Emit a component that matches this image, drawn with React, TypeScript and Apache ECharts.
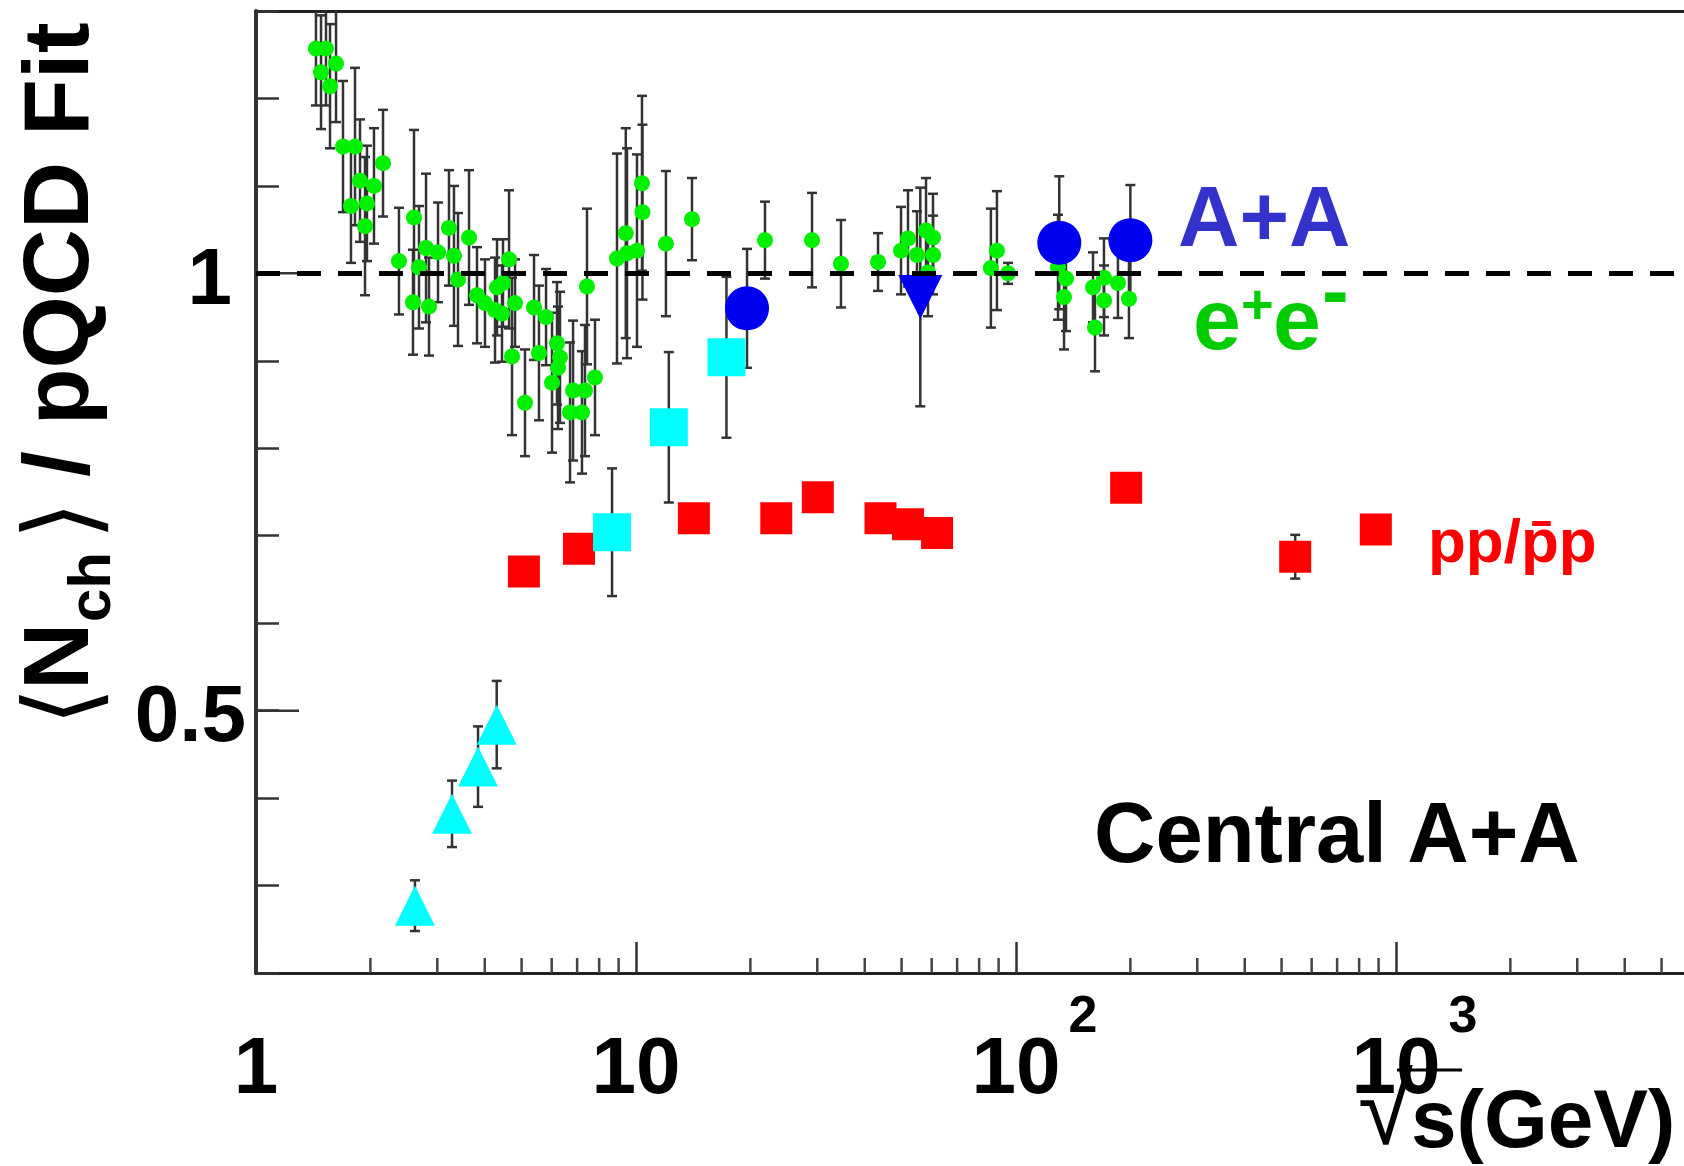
import React, { useEffect, useRef } from 'react';
import * as echarts from 'echarts';

// ---------- data ----------
// e+e- : sqrt(s) [GeV], <Nch>/pQCD fit, error
const eeSqrtS = [1.438, 1.528, 1.624, 1.483, 1.566, 1.694, 1.822, 2.159, 1.878, 2.044,
  1.778, 1.959, 1.936, 2.378, 2.605, 2.802, 3.013, 2.685, 3.22, 3.636,
  3.319, 3.401, 2.589, 2.853, 4.634, 3.816, 4.005, 4.308, 4.467, 4.256,
  4.44, 4.805, 5.391, 5.798, 7.431, 4.718, 5.555, 5.104, 6.196, 6.31,
  6.234, 6.012, 6.829, 7.341, 6.706, 7.209, 7.8, 8.913, 9.47, 10.06,
  9.4, 10.37, 10.4, 11.99, 14.04, 21.85, 29.06, 34.63, 43.35, 49.83,
  51.98, 54.89, 57.98, 60.48, 60.5, 58.68, 89.1, 85.9, 95.3, 129,
  135.4, 133.8, 159.5, 170.4, 170.5, 185.5, 198.3, 161.4];
const eeRatio = [1.257, 1.257, 1.240, 1.230, 1.214, 1.145, 1.145, 1.126, 1.106, 1.100,
  1.077, 1.080, 1.054, 1.014, 1.064, 1.029, 1.024, 1.007, 1.052, 1.041,
  1.020, 0.993, 0.967, 0.962, 1.016, 0.975, 0.966, 0.984, 0.989, 0.958,
  0.954, 0.966, 0.961, 0.950, 0.985, 0.905, 0.909, 0.852, 0.920, 0.904,
  0.892, 0.875, 0.866, 0.866, 0.841, 0.841, 0.881, 1.017, 1.023, 1.026,
  1.046, 1.103, 1.070, 1.034, 1.062, 1.038, 1.038, 1.011, 1.013, 1.026,
  1.040, 1.021, 1.049, 1.041, 1.021, 1.001, 1.026, 1.006, 1.000, 1.007,
  0.994, 0.973, 0.984, 0.995, 0.969, 0.989, 0.971, 0.938];
const eeErr = [0.065, 0.065, 0.067, 0.065, 0.071, 0.075, 0.09, 0.061, 0.07, 0.066,
  0.065, 0.066, 0.079, 0.061, 0.1, 0.085, 0.057, 0.07, 0.066, 0.077,
  0.08, 0.076, 0.06, 0.056, 0.079, 0.055, 0.05, 0.055, 0.05, 0.06,
  0.055, 0.05, 0.06, 0.055, 0.089, 0.09, 0.077, 0.061, 0.07, 0.075,
  0.07, 0.08, 0.08, 0.075, 0.08, 0.07, 0.066, 0.12, 0.12, 0.11,
  0.12, 0.1, 0.1, 0.083, 0.047, 0.044, 0.054, 0.05, 0.033, 0.05,
  0.055, 0.05, 0.06, 0.05, 0.045, 0.05, 0.068, 0.068, 0.012, 0.06,
  0.06, 0.06, 0.04, 0.045, 0.04, 0.04, 0.045, 0.05];

// pp / ppbar
const ppSqrtS = [5.07, 7.08, 14.2, 23.4, 30.1, 44, 52, 62, 195, 543, 885];
const ppRatio = [0.659, 0.685, 0.720, 0.720, 0.744, 0.720, 0.713, 0.703, 0.755, 0.676, 0.707];
const ppErr = [0, 0, 0, 0, 0, 0, 0, 0, 0, 0.025, 0];

// AGS (cyan triangles)
const agsSqrtS = [2.62, 3.28, 3.84, 4.30];
const agsRatio = [0.277, 0.382, 0.436, 0.484];
const agsErr = [0.029, 0.038, 0.046, 0.05];

// SPS (cyan squares)
const spsSqrtS = [8.65, 12.2, 17.3];
const spsRatio = [0.704, 0.824, 0.904];
const spsErr = [0.073, 0.086, 0.092];

// RHIC (blue circles)
const rhicSqrtS = [19.6, 130, 200];
const rhicRatio = [0.960, 1.035, 1.038];
const rhicErr = [0.068, 0.076, 0.063];

// RHIC 56 GeV (blue inverted triangle)
const rhic56SqrtS = [56];
const rhic56Ratio = [0.973];
const rhic56Err = [0.125];

// axis ticks
const xMinorTicks = [2, 3, 4, 5, 6, 7, 8, 9, 20, 30, 40, 50, 60, 70, 80, 90,
  200, 300, 400, 500, 600, 700, 800, 900, 2000, 3000, 4000, 5000];
const yMajorTicks = [0.5, 1];

const X_MIN = 1;
const X_MAX = 5728;
const Y_MIN = 0.2;
const Y_MAX = 1.3;

const FONT = 'Liberation Sans';

function zip3(a: number[], b: number[], c: number[]) {
  return a.map((v, i) => [v, b[i], c[i]]);
}
function zip2(a: number[], b: number[]) {
  return a.map((v, i) => [v, b[i]]);
}

const errRender = (params: any, api: any) => {
  const x = api.value(0);
  const y = api.value(1);
  const e = api.value(2);
  if (!e) return { type: 'group', children: [] };
  const top = api.coord([x, y + e]);
  const bot = api.coord([x, y - e]);
  const hw = 5;
  const style = { stroke: '#333333', lineWidth: 2.5 };
  return {
    type: 'group',
    children: [
      { type: 'line', shape: { x1: top[0], y1: top[1], x2: bot[0], y2: bot[1] }, style },
      { type: 'line', shape: { x1: top[0] - hw, y1: top[1], x2: top[0] + hw, y2: top[1] }, style },
      { type: 'line', shape: { x1: bot[0] - hw, y1: bot[1], x2: bot[0] + hw, y2: bot[1] }, style },
    ],
  };
};

function errSeries(data: number[][]) {
  return {
    type: 'custom',
    renderItem: errRender,
    data,
    encode: { x: 0, y: 1 },
    clip: true,
    silent: true,
    z: 2,
  };
}

function txt(x: number, y: number, text: string, size: number, color: string, weight = 'bold', lineHeight?: number, family = FONT) {
  const style: any = { text, fill: color, fontSize: size, fontWeight: weight, fontFamily: family, align: 'left', verticalAlign: 'middle' };
  if (lineHeight) style.lineHeight = lineHeight;
  return { type: 'text', x, y, silent: true, style };
}

export default function App() {
  const ref = useRef<HTMLDivElement>(null);
  useEffect(() => {
    const chart = echarts.init(ref.current as HTMLDivElement, null, { renderer: 'svg' });
    const option: any = {
      animation: false,
      backgroundColor: '#ffffff',
      textStyle: { fontFamily: FONT },
      grid: { left: 256, top: 11, width: 1428, height: 962, containLabel: false },
      xAxis: [
        {
          type: 'log',
          logBase: 10,
          min: X_MIN,
          max: X_MAX,
          position: 'bottom',
          splitNumber: 4,
          axisLine: { show: true, lineStyle: { color: '#222', width: 3 } },
          axisTick: { show: true, inside: true, length: 31, lineStyle: { color: '#333', width: 2.5 } },
          splitLine: { show: false },
          minorTick: { show: false },
          axisLabel: {
            show: true,
            margin: 15,
            showMaxLabel: false,
            showMinLabel: true,
            formatter: (v: number) => {
              const lg = Math.log10(v);
              const k = Math.round(lg);
              if (Math.abs(lg - k) > 1e-6) return '';
              if (k === 0) return '{b|1}';
              if (k === 1) return '{b|10}';
              return '{pad|}{b|10}{sup|' + k + '}';
            },
            rich: {
              b: { fontSize: 80, fontWeight: 'bold', fontFamily: FONT, lineHeight: 60, padding: [37, 0, 0, 0], verticalAlign: 'top', color: '#000' },
              sup: { fontSize: 52, fontWeight: 'bold', fontFamily: FONT, lineHeight: 52, padding: [0, 0, 0, 8], verticalAlign: 'top', color: '#000' },
              pad: { width: 37 },
            },
          },
        },
        {
          type: 'log',
          logBase: 10,
          min: X_MIN,
          max: X_MAX,
          position: 'top',
          axisLine: { show: true, lineStyle: { color: '#222', width: 3 } },
          axisTick: { show: false },
          axisLabel: { show: false },
          splitLine: { show: false },
        },
      ],
      yAxis: [
        {
          type: 'value',
          min: Y_MIN,
          max: Y_MAX,
          interval: 0.1,
          axisLine: { show: true, lineStyle: { color: '#333', width: 4 } },
          axisTick: { show: true, inside: true, length: 23, lineStyle: { color: '#333', width: 2.5 } },
          splitLine: { show: false },
          axisLabel: {
            margin: 10,
            formatter: (v: number) => {
              if (Math.abs(v - 1) < 1e-6) return '{one|1}';
              if (Math.abs(v - 0.5) < 1e-6) return '{n|0.5}';
              return '';
            },
            rich: {
              one: { fontSize: 80, fontWeight: 'bold', fontFamily: FONT, color: '#000', padding: [6, 14, 0, 0] },
              n: { fontSize: 80, fontWeight: 'bold', fontFamily: FONT, color: '#000', padding: [6, 0, 0, 0] },
            },
          },
        },
      ],
      series: [
        {
          type: 'custom',
          silent: true,
          encode: { x: 0, y: 1 },
          data: xMinorTicks.map((v) => [v, Y_MIN]),
          renderItem: (params: any, api: any) => {
            const p = api.coord([api.value(0), api.value(1)]);
            return { type: 'line', shape: { x1: p[0], y1: p[1], x2: p[0], y2: p[1] - 15 }, style: { stroke: '#444', lineWidth: 2.5 } };
          },
        },
        {
          type: 'custom',
          silent: true,
          encode: { x: 0, y: 1 },
          data: yMajorTicks.map((v) => [X_MIN, v]),
          renderItem: (params: any, api: any) => {
            const p = api.coord([api.value(0), api.value(1)]);
            return { type: 'line', shape: { x1: p[0], y1: p[1], x2: p[0] + 43, y2: p[1] }, style: { stroke: '#333', lineWidth: 2.5 } };
          },
        },
        errSeries(zip3(eeSqrtS, eeRatio, eeErr)),
        errSeries(zip3(ppSqrtS, ppRatio, ppErr)),
        errSeries(zip3(agsSqrtS, agsRatio, agsErr)),
        errSeries(zip3(spsSqrtS, spsRatio, spsErr)),
        errSeries(zip3(rhicSqrtS, rhicRatio, rhicErr)),
        errSeries(zip3(rhic56SqrtS, rhic56Ratio, rhic56Err)),
        {
          name: 'e+e-',
          type: 'scatter',
          data: zip2(eeSqrtS, eeRatio),
          symbol: 'circle',
          symbolSize: 16,
          itemStyle: { color: '#00f000', opacity: 1 },
          silent: true,
          z: 3,
          markLine: {
            silent: true,
            symbol: ['none', 'none'],
            label: { show: false },
            lineStyle: { color: '#000', width: 5, type: [24, 17], opacity: 1 },
            data: [{ yAxis: 1 }],
          },
        },
        {
          name: 'pp',
          type: 'scatter',
          data: zip2(ppSqrtS, ppRatio),
          symbol: 'rect',
          symbolSize: 32,
          itemStyle: { color: '#ff0000', opacity: 1 },
          silent: true,
          z: 3,
        },
        {
          name: 'AGS',
          type: 'scatter',
          data: zip2(agsSqrtS, agsRatio),
          symbol: 'triangle',
          symbolSize: 40,
          itemStyle: { color: '#00ffff', opacity: 1 },
          silent: true,
          z: 3,
        },
        {
          name: 'SPS',
          type: 'scatter',
          data: zip2(spsSqrtS, spsRatio),
          symbol: 'rect',
          symbolSize: 38,
          itemStyle: { color: '#00ffff', opacity: 1 },
          silent: true,
          z: 3,
        },
        {
          name: 'RHIC',
          type: 'scatter',
          data: zip2(rhicSqrtS, rhicRatio),
          symbol: 'circle',
          symbolSize: 44,
          itemStyle: { color: '#0000f0', opacity: 1 },
          silent: true,
          z: 4,
        },
        {
          name: 'RHIC56',
          type: 'scatter',
          data: zip2(rhic56SqrtS, rhic56Ratio),
          symbol: 'triangle',
          symbolRotate: 180,
          symbolSize: 44,
          itemStyle: { color: '#0000f0', opacity: 1 },
          silent: true,
          z: 4,
        },
      ],
      graphic: [
        txt(1178, 216, 'A+A', 85, '#3333cc', 'bold', 62),
        txt(1193, 319, 'e', 86, '#00cc00', 'bold', 50),
        txt(1241, 303.5, '+', 56, '#00cc00', 'bold', 30),
        txt(1273, 319, 'e', 86, '#00cc00', 'bold', 50),
        txt(1322, 290, '-', 80, '#00cc00', 'bold', 20),
        txt(1428, 540.5, 'pp/p\u0304p', 62, '#ff0000'),
        txt(1094, 832.5, 'Central A+A', 85, '#000'),
        {
          type: 'group', x: 0, y: 726, rotation: Math.PI / 2, silent: true,
          children: [
            { type: 'text', x: 0, y: 60, style: { text: '\u27E8', fill: '#000', fontSize: 100, fontFamily: 'DejaVu Sans', align: 'left', verticalAlign: 'middle' } },
            { type: 'text', x: 36, y: 56, style: { text: 'N', fill: '#000', fontSize: 93, fontWeight: 'bold', fontFamily: FONT, align: 'left', verticalAlign: 'middle' } },
            { type: 'text', x: 104, y: 89, style: { text: 'ch', fill: '#000', fontSize: 60, fontWeight: 'bold', fontFamily: FONT, align: 'left', verticalAlign: 'middle' } },
            { type: 'text', x: 186, y: 60, style: { text: '\u27E9', fill: '#000', fontSize: 100, fontFamily: 'DejaVu Sans', align: 'left', verticalAlign: 'middle' } },
            { type: 'text', x: 249, y: 56, style: { text: '/ pQCD Fit', fill: '#000', fontSize: 93, fontWeight: 'bold', fontFamily: FONT, align: 'left', verticalAlign: 'middle' } },
          ],
        },
        txt(1358, 1109, '\u221A', 100, '#000', 'normal', 60),
        txt(1411, 1118, 's(GeV)', 82, '#000', 'bold', 60),
        {
          type: 'line', silent: true,
          shape: { x1: 1397, y1: 1070, x2: 1462, y2: 1070 },
          style: { stroke: '#000', lineWidth: 3 },
        },
      ],
    };
    chart.setOption(option);
    return () => chart.dispose();
  }, []);
  return <div ref={ref} style={{ position: 'fixed', left: 0, top: 0, width: 1684, height: 1166 }} />;
}
